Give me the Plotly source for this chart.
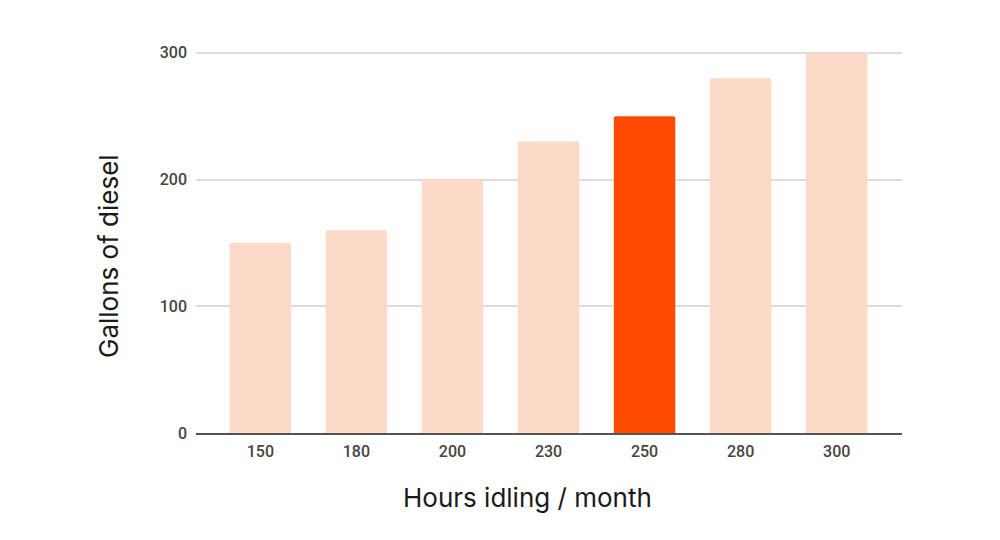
import plotly.graph_objects as go

hours = ["150", "180", "200", "230", "250", "280", "300"]
gallons = [150, 160, 200, 230, 250, 280, 300]
highlight = "250"
y_ticks = [0, 100, 200, 300]

light = "#FDDAC7"
strong = "#FF4B00"
colors = [strong if h == highlight else light for h in hours]

fig = go.Figure(go.Bar(
    x=hours, y=gallons, marker_color=colors, marker_line_width=0, width=0.64,
    marker_cornerradius=2,
))

fig.update_layout(
    width=1000, height=540,
    margin=dict(l=196, r=98, t=49, b=107),
    paper_bgcolor="white", plot_bgcolor="white",
    font=dict(family="Roboto, Inter, sans-serif"),
    showlegend=False,
    annotations=[
        dict(text="Hours idling / month", xref="paper", yref="paper",
             x=(527 - 196) / 706, y=-(497 - 433) / 384, xanchor="center", yanchor="middle",
             showarrow=False, font=dict(family="Inter", size=26, color="#1a1a1a")),
        dict(text="Gallons of diesel", xref="paper", yref="paper",
             x=-(196 - 108) / 706, y=(433 - 256) / 384, xanchor="center", yanchor="middle",
             textangle=-90, showarrow=False, font=dict(family="Inter", size=26, color="#1a1a1a")),
    ],
)
fig.update_xaxes(
    type="category", range=[-0.67, 6.68],
    showgrid=False, showline=True, linecolor="#555555", linewidth=2,
    tickfont=dict(size=16, color="#444444", weight=500),
    ticklabelstandoff=3,
)
fig.update_yaxes(
    range=[0, 303], tickvals=y_ticks,
    showgrid=True, gridcolor="#dddddd", gridwidth=2,
    zeroline=False, showline=False,
    tickfont=dict(size=16, color="#444444", weight=500),
    ticklabelstandoff=8,
)
fig.write_html("out.html")
